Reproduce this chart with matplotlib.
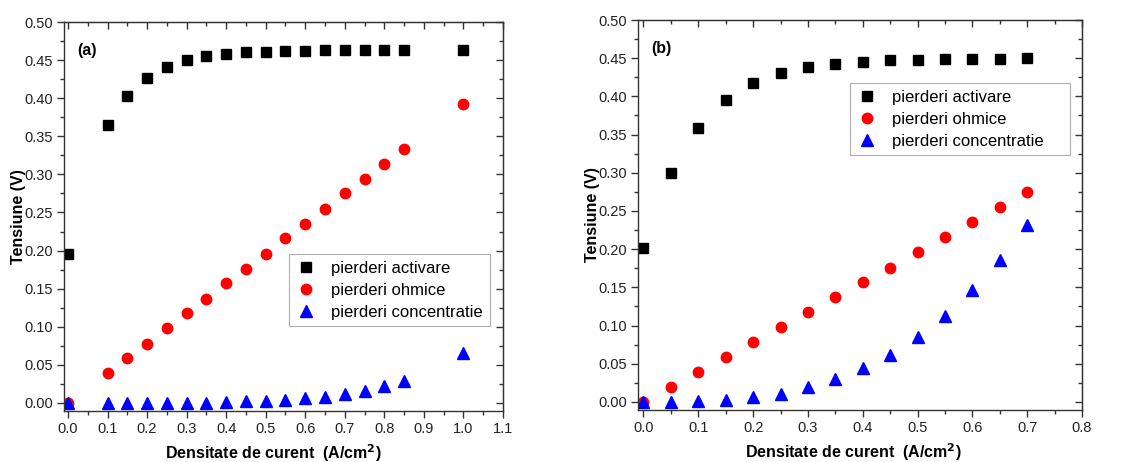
import matplotlib
matplotlib.use("Agg")
import matplotlib.pyplot as plt
from matplotlib.ticker import MultipleLocator, FormatStrFormatter

plt.rcParams['font.family'] = ['Liberation Sans', 'DejaVu Sans']

# Panel (a)
x_a = [0.0, 0.1, 0.15, 0.2, 0.25, 0.3, 0.35, 0.4, 0.45, 0.5, 0.55, 0.6,
       0.65, 0.7, 0.75, 0.8, 0.85, 1.0]
act_a = [0.195, 0.365, 0.403, 0.427, 0.441, 0.450, 0.455, 0.458, 0.460,
         0.461, 0.462, 0.462, 0.463, 0.463, 0.463, 0.463, 0.463, 0.463]
ohm_a = [0.0, 0.039, 0.059, 0.078, 0.098, 0.118, 0.137, 0.157, 0.176,
         0.196, 0.216, 0.235, 0.255, 0.275, 0.294, 0.314, 0.333, 0.392]
conc_a = [0.0, 0.0, 0.0, 0.0, 0.0, 0.0, 0.0, 0.001, 0.002, 0.002, 0.004,
          0.006, 0.008, 0.012, 0.016, 0.022, 0.029, 0.066]

# Panel (b)
x_b = [0.0, 0.05, 0.1, 0.15, 0.2, 0.25, 0.3, 0.35, 0.4, 0.45, 0.5, 0.55,
       0.6, 0.65, 0.7]
act_b = [0.202, 0.300, 0.359, 0.395, 0.417, 0.430, 0.438, 0.442, 0.445,
         0.447, 0.448, 0.449, 0.449, 0.449, 0.450]
ohm_b = [0.0, 0.020, 0.039, 0.059, 0.078, 0.098, 0.118, 0.137, 0.157,
         0.176, 0.196, 0.216, 0.235, 0.255, 0.275]
conc_b = [0.0, 0.0, 0.001, 0.003, 0.006, 0.011, 0.019, 0.030, 0.044,
          0.062, 0.085, 0.113, 0.146, 0.186, 0.232]

labels = ["pierderi activare", "pierderi ohmice", "pierderi concentratie"]

fig = plt.figure(figsize=(11.33, 4.62), dpi=100)
W, H = 1133, 462
EDGE = '#333333'


def make_axes(left, top, right, bottom):
    return fig.add_axes([left / W, 1 - bottom / H, (right - left) / W, (bottom - top) / H])


def style(ax, xmax, panel, legend_box, xlabel_x):
    ax.set_xlim(-0.01, xmax)
    ax.set_ylim(-0.0105, 0.5)
    ax.xaxis.set_major_locator(MultipleLocator(0.1))
    ax.xaxis.set_minor_locator(MultipleLocator(0.05))
    ax.yaxis.set_major_locator(MultipleLocator(0.05))
    ax.yaxis.set_minor_locator(MultipleLocator(0.025))
    ax.xaxis.set_major_formatter(FormatStrFormatter('%.1f'))
    ax.yaxis.set_major_formatter(FormatStrFormatter('%.2f'))
    for s in ax.spines.values():
        s.set_color(EDGE)
        s.set_linewidth(1.0)
    ax.tick_params(which='major', direction='out', length=5, width=1.0,
                   color=EDGE, labelsize=10.5, labelcolor='#222222', pad=3)
    ax.tick_params(which='minor', direction='out', length=3, width=1.0, color=EDGE)
    # top and right ticks point inward
    top = ax.secondary_xaxis('top')
    top.xaxis.set_major_locator(MultipleLocator(0.1))
    top.xaxis.set_minor_locator(MultipleLocator(0.05))
    top.tick_params(which='major', direction='in', length=5, width=1.0, color=EDGE, labeltop=False)
    top.tick_params(which='minor', direction='in', length=3, width=1.0, color=EDGE)
    top.spines['top'].set_color(EDGE)
    right = ax.secondary_yaxis('right')
    right.yaxis.set_major_locator(MultipleLocator(0.05))
    right.yaxis.set_minor_locator(MultipleLocator(0.025))
    right.tick_params(which='major', direction='in', length=5, width=1.0, color=EDGE, labelright=False)
    right.tick_params(which='minor', direction='in', length=3, width=1.0, color=EDGE)
    right.spines['right'].set_color(EDGE)

    ax.set_xlabel("Densitate de curent  (A/cm$^\\mathbf{2}$)", fontsize=11.5,
                  fontweight='bold')
    ax.xaxis.set_label_coords(xlabel_x, -0.08)
    ax.set_ylabel("Tensiune (V)", fontsize=11.5, fontweight='bold', labelpad=-1)
    ax.text(0.03, 0.945, panel, transform=ax.transAxes, fontsize=11.5,
            fontweight='bold', va='top', ha='left')
    leg = ax.legend(loc='upper left', bbox_to_anchor=legend_box, mode='expand',
                    frameon=True, fancybox=False, edgecolor='#999999', fontsize=12,
                    handletextpad=0.9, borderpad=0.4, labelspacing=0.42,
                    handlelength=1.2, borderaxespad=0)
    leg.get_frame().set_linewidth(0.8)


def plot_panel(ax, x, act, ohm, conc):
    ax.plot(x, act, 's', color='black', markersize=6.5, linestyle='none', label=labels[0])
    ax.plot(x, ohm, 'o', color='#ff0000', markersize=7.5, linestyle='none', label=labels[1])
    ax.plot(x, conc, '^', color='#0000ff', markersize=8, linestyle='none', label=labels[2])


ax_a = make_axes(64, 22, 503, 411)
plot_panel(ax_a, x_a, act_a, ohm_a, conc_a)
style(ax_a, 1.1, "(a)",
      ((289 - 64) / 439, (411 - 254) / 389, 201 / 439, 0.0), (273 - 64) / 439)

ax_b = make_axes(638, 20, 1082, 410)
plot_panel(ax_b, x_b, act_b, ohm_b, conc_b)
style(ax_b, 0.8, "(b)",
      ((850 - 638) / 444, (410 - 83) / 390, 220 / 444, 0.0), (853 - 638) / 444)

fig.savefig("out.png", dpi=100)
